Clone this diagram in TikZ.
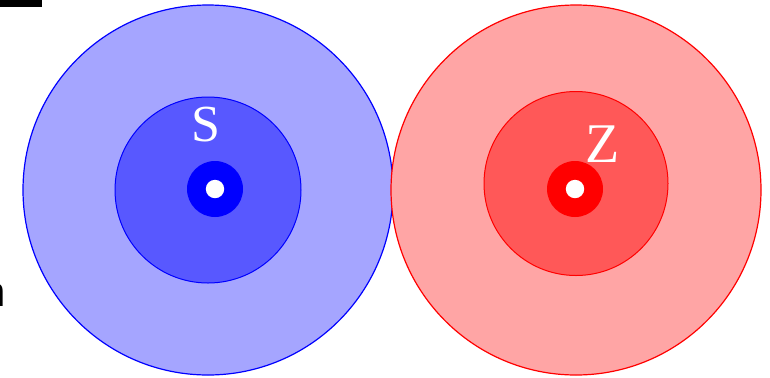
\documentclass[tikz,border=0pt]{standalone}
\usepackage{fontspec}
\setmainfont{Liberation Serif}
\newfontfamily\labelsans{Liberation Sans}
\usepackage{xcolor}
\definecolor{SOuter}{HTML}{A5A5FF}
\definecolor{SInner}{HTML}{5858FF}
\definecolor{SCore}{HTML}{0000FF}
\definecolor{ZOuter}{HTML}{FFA5A5}
\definecolor{ZInner}{HTML}{FF5858}
\definecolor{ZCore}{HTML}{FF0000}
\begin{document}
\begin{tikzpicture}[x=0.5pt,y=0.5pt]
\path[use as bounding box] (0,0) rectangle (770,377);
\fill[white] (0,0) rectangle (770,377);
\fill[black] (0,370) rectangle (42,377);
\node[anchor=base east,inner sep=0pt] (cut) at (6.5,71) {\labelsans\fontsize{21pt}{21pt}\selectfont n};
% S side
\draw[SCore,fill=SOuter,line width=.6pt] (208,187) circle[radius=92.5pt];
\draw[SCore,fill=SInner,line width=.5pt] (208,187) circle[radius=46.5pt];
\fill[SCore] (215,188) circle[radius=14pt];
\fill[white] (215,188) circle[radius=4.6pt];
\node[white] (slabel) at (206,252) {\fontsize{26pt}{26pt}\selectfont S};
% Z side
\draw[ZCore,fill=ZOuter,line width=.6pt] (576,187) circle[radius=92.5pt];
\draw[ZCore,fill=ZInner,line width=.5pt] (576,193.5) circle[radius=46pt];
\fill[ZCore] (575,188) circle[radius=14pt];
\fill[white] (575,188) circle[radius=4.6pt];
\node[white] (zlabel) at (603,233) {\fontsize{28pt}{28pt}\selectfont Z};
\end{tikzpicture}
\end{document}
